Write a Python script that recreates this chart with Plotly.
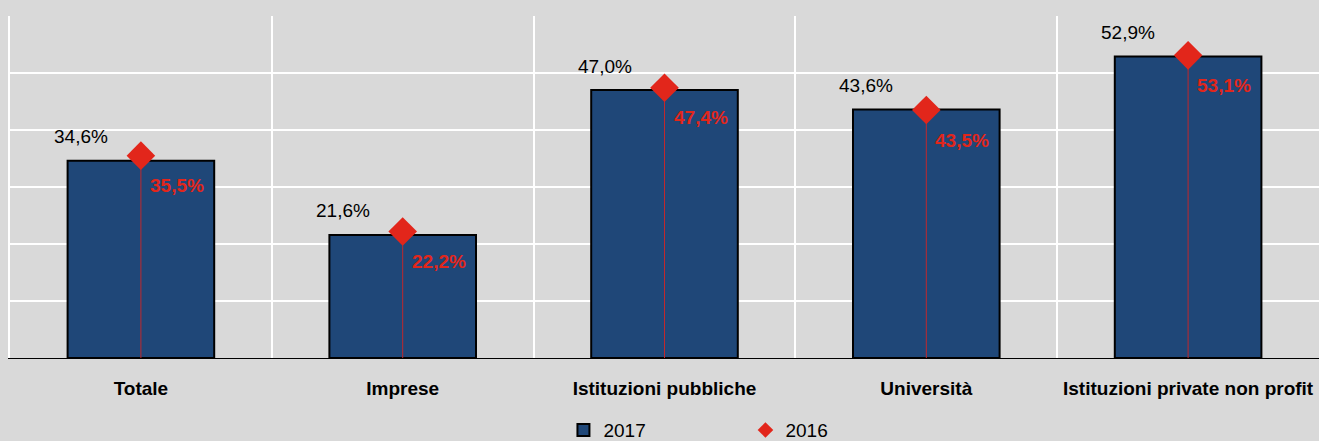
import plotly.graph_objects as go

categories = ["Totale", "Imprese", "Istituzioni pubbliche", "Università", "Istituzioni private non profit"]
values_2017 = [34.6, 21.6, 47.0, 43.6, 52.9]
values_2016 = [35.5, 22.2, 47.4, 43.5, 53.1]
labels_2017 = ["34,6%", "21,6%", "47,0%", "43,6%", "52,9%"]
labels_2016 = ["35,5%", "22,2%", "47,4%", "43,5%", "53,1%"]

FONT = "Liberation Sans, Arial, sans-serif"
BLUE = "#1f4778"
RED = "#e2261b"

fig = go.Figure()
fig.add_trace(go.Bar(
    x=categories, y=values_2017, name="2017",
    marker=dict(color=BLUE, line=dict(color="#000000", width=2)),
    width=0.56, hoverinfo="skip",
))
fig.add_trace(go.Scatter(
    x=categories, y=values_2016, name="2016", mode="markers",
    marker=dict(symbol="diamond", size=22, color=RED, line=dict(width=0)),
    error_y=dict(type="data", symmetric=False, array=[0] * len(values_2016),
                 arrayminus=values_2016, color="#c0282d", thickness=1, width=0),
    hoverinfo="skip",
))

annotations = []
for c, v, t in zip(categories, values_2017, labels_2017):
    annotations.append(dict(x=c, y=v, text=t, showarrow=False, xshift=-60, yshift=24,
                            font=dict(family=FONT, size=19, color="#000000")))
for c, v, t in zip(categories, values_2016, labels_2016):
    annotations.append(dict(x=c, y=v, text="<b>" + t + "</b>", showarrow=False, xshift=36, yshift=-30,
                            font=dict(family=FONT, size=19, color=RED)))

fig.update_layout(
    width=1319, height=441,
    margin=dict(l=10, r=0, t=16, b=83, autoexpand=False),
    paper_bgcolor="#d9d9d9", plot_bgcolor="#d9d9d9",
    font=dict(family=FONT, size=19, color="#000000"),
    showlegend=True,
    legend=dict(orientation="h", x=0.4228, xanchor="left", y=-0.211, yanchor="middle",
                entrywidth=137, bgcolor="rgba(0,0,0,0)", font=dict(size=19),
                itemwidth=30, tracegroupgap=0, itemsizing="constant"),
    annotations=annotations,
    bargap=0.44,
)
fig.update_xaxes(
    type="category", tickson="boundaries", showgrid=True, gridcolor="#ffffff", gridwidth=2,
    showline=True, linecolor="#000000", linewidth=1, ticks="", tickangle=0, automargin=False,
    ticklabelstandoff=13,
    tickfont=dict(family=FONT, size=19, color="#000000", weight="bold"),
    range=[-0.5, 4.5],
)
fig.update_yaxes(
    range=[0, 60], dtick=10, showticklabels=False, showgrid=True, gridcolor="#ffffff", gridwidth=2,
    showline=True, linecolor="#ffffff", linewidth=2,
    zeroline=True, zerolinecolor="#000000", zerolinewidth=1, ticks="", automargin=False,
)

fig.write_html("out.html", config={"displayModeBar": False},
               post_script="document.body.style.margin='0px';document.body.style.overflow='hidden';")
